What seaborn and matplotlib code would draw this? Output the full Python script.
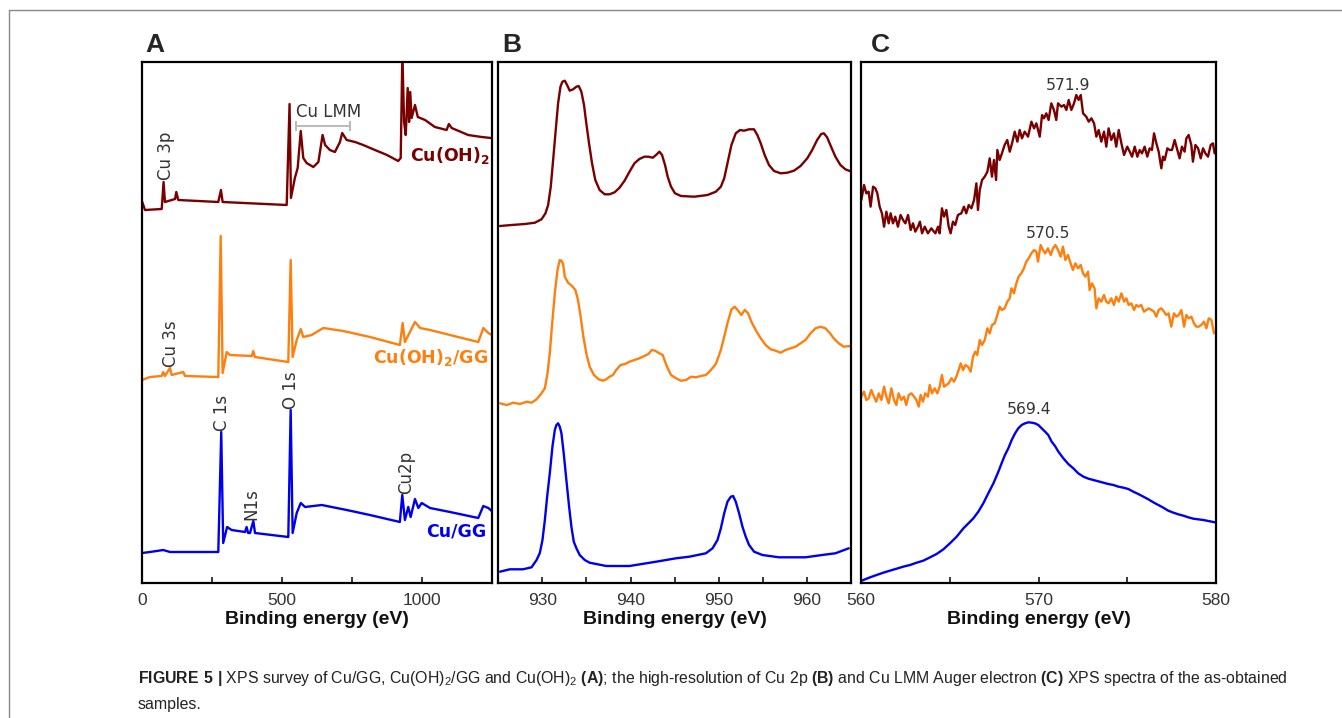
import matplotlib
matplotlib.use("Agg")
import matplotlib.pyplot as plt
import seaborn as sns
import pandas as pd
from matplotlib import font_manager as fm
from matplotlib.lines import Line2D

# ---------------- data ----------------
# Panel A: survey spectra (binding energy eV, intensity a.u. with offsets)
a_cuoh2_x = [1, 10.7, 70.4, 77, 82, 118, 122.5, 129.6, 272.5, 282, 288, 516.8, 527, 532, 546, 556, 567, 576,
             588, 612, 630, 645, 654, 671, 689, 707, 715, 731, 761, 790, 832, 875, 915, 924, 930, 936, 942, 949, 954,
             958, 963, 975, 985, 1011, 1046, 1088, 1096, 1106, 1165, 1213, 1246]
a_cuoh2_y = [381, 373, 374, 401, 381, 384, 391, 383, 381, 393, 381, 378, 479, 385, 405, 415, 452, 425,
             420, 416, 421, 448, 438, 433, 431, 441, 450, 443, 441, 438, 433, 428, 422, 425, 530, 461, 448, 495, 461,
             491, 465, 478, 466, 463, 456, 453, 459, 455, 448, 446, 445]

a_cuoh2gg_x = [0, 28.6, 70.4, 76, 82, 100, 106, 147.5, 153.6, 272.5, 281, 288, 302.5, 314, 392, 397.5, 403,
               522.5, 531, 538, 552.5, 567, 576, 606, 647.5, 719, 814, 921, 931, 939, 957, 975, 993, 1028.6,
               1100, 1201, 1219, 1237, 1249]
a_cuoh2gg_y = [203, 206, 207, 211, 207, 215, 208, 211, 207, 206, 347, 210, 231, 228, 227, 232, 226,
               221, 323, 226, 243, 254, 246, 248, 255, 252, 246, 238, 260, 241, 251, 261, 255, 253,
               248, 241, 255, 250, 248]

a_cugg_x = [0, 28.6, 76, 100, 272.5, 283, 290, 304, 320, 368, 373.6, 379, 385.7, 397.6, 403.6, 522.5, 531,
            538, 552.5, 567, 582.5, 642, 731, 814, 921, 929.6, 939, 951, 959.5, 975, 987, 999, 1028.6,
            1100, 1201, 1219, 1237, 1249]
a_cugg_y = [30, 31, 33, 31, 31, 151, 40, 56, 53, 51, 56, 50, 50, 62, 50, 46, 173,
            50, 70, 80, 76, 78, 73, 68, 61, 88, 63, 76, 66, 84, 75, 80, 75,
            71, 65, 77, 75, 72]

# Panel B: Cu 2p high resolution
b_cuoh2_x = [925.19, 926.51, 928.02, 929.15, 929.90, 930.35, 930.65, 930.95, 931.22, 931.48,
             931.78, 932.05, 932.27, 932.54, 932.80, 933.10, 933.48, 933.86, 934.12, 934.42,
             934.72, 934.98, 935.29, 935.63, 936.00, 936.49, 937.06, 937.62, 938.19, 938.75,
             939.32, 939.88, 940.44, 941.00, 941.57, 942.03, 942.52, 942.89, 943.27, 943.57,
             943.91, 944.21, 944.59, 945.04, 945.72, 947.23, 948.73, 949.67, 950.24, 950.62,
             950.99, 951.44, 951.93, 952.42, 952.87, 953.44, 954.00, 954.38, 954.76, 955.21,
             955.70, 956.27, 957.02, 957.78, 958.53, 959.28, 960.04, 960.60, 961.16, 961.62,
             961.92, 962.29, 962.74, 963.23, 963.80, 964.36, 964.85]
b_cuoh2_y = [357, 358, 359, 360.3, 363.7, 369.7, 378, 396.3, 423, 449.7,
             479.7, 496.3, 501.3, 502.3, 498, 492.3, 493.7, 496.3, 497, 491.3,
             478, 459.7, 439.7, 419.7, 403, 393, 388.7, 388.7, 390.7, 395.3,
             402.3, 411.3, 419.7, 424, 426.3, 426.3, 425.3, 428, 431.3, 428,
             418, 406.3, 396.3, 389.7, 387, 386.3, 388, 391.3, 396.3, 404.7,
             419.7, 438, 449.7, 453, 452.3, 453.7, 453.7, 448, 439.7, 428,
             418, 412, 409.7, 410.3, 412.3, 417, 424.7, 433, 443, 449,
             449.7, 445.7, 436.3, 426.3, 418, 413.7, 412]

b_cuoh2gg_x = [925.19, 925.95, 926.70, 927.45, 928.21, 928.77, 929.34, 929.90, 930.28, 930.58,
               930.84, 931.11, 931.41, 931.71, 931.97, 932.16, 932.35, 932.54, 932.91, 933.36,
               933.74, 934.04, 934.34, 934.65, 934.98, 935.36, 935.85, 936.38, 936.87, 937.24,
               937.62, 938.00, 938.37, 938.86, 939.39, 939.88, 940.44, 941.00, 941.57, 942.03,
               942.40, 942.78, 943.27, 943.65, 943.91, 944.21, 944.59, 945.15, 945.72, 946.29,
               946.85, 947.41, 947.98, 948.54, 949.11, 949.67, 950.24, 950.62, 950.99, 951.44,
               951.82, 952.20, 952.57, 952.95, 953.33, 953.70, 954.19, 954.76, 955.32, 955.89,
               956.45, 957.02, 957.58, 958.15, 958.71, 959.28, 959.84, 960.41, 960.97, 961.54,
               962.10, 962.59, 963.04, 963.61, 964.17, 964.85]
b_cuoh2gg_y = [179.7, 178, 180.3, 179, 181.3, 180.3, 183.7, 189.7, 194.7, 209.7,
               229.7, 259.7, 289.7, 313, 323, 322.3, 319, 306.3, 300.3, 297,
               293, 283, 266.3, 246.3, 229.7, 216.3, 208, 203.7, 202.3, 203.7,
               206.3, 208, 213, 218, 219, 221.3, 223, 224.7, 227, 229,
               233, 232.3, 229.7, 228, 221.3, 214.7, 208, 204.7, 202.3, 203,
               206.3, 205.7, 207, 208, 213, 219, 233, 246.3, 259.7, 273.7,
               276.3, 272.3, 268, 273, 269.7, 261.3, 253, 244.7, 238, 233.7,
               232.3, 230.3, 233, 234.7, 236.3, 239.7, 243, 249.7, 254.7, 256.3,
               254.7, 250, 244.7, 239.7, 236.3, 237]

b_cugg_x = [925.19, 926.30, 927.80, 928.77, 929.34, 929.71, 930.01, 930.28, 930.54, 930.84,
            931.14, 931.41, 931.59, 931.78, 931.97, 932.16, 932.42, 932.72, 933.03, 933.29,
            933.56, 933.86, 934.23, 934.80, 935.36, 937.24, 939.88, 942.90, 945.15, 946.66,
            948.54, 949.30, 949.86, 950.24, 950.62, 950.99, 951.37, 951.63, 951.93, 952.31,
            952.69, 953.06, 953.44, 954.01, 954.95, 956.83, 959.84, 961.72, 963.23, 964.74]
b_cugg_y = [11.3, 13.7, 13.7, 15.7, 23, 30, 43, 63, 86.3, 109.7,
            136.3, 153, 158, 159.7, 156.3, 149.7, 129.7, 103, 76.3, 56.3,
            41.3, 34.7, 28, 23, 20.3, 17, 17, 21.3, 24.7, 26.3,
            29.7, 34.7, 43, 54.7, 69.7, 81.3, 86.3, 87, 81.3, 69.7,
            56.3, 46.3, 38, 31.3, 28, 25.7, 25.7, 28, 29.7, 34.7]

# Panel C: Cu LMM Auger
c_cuoh2_x = [560.02, 560.17, 560.30, 560.43, 560.54, 560.68, 560.81, 560.92, 561.05, 561.18, 561.30, 561.43,
             561.56, 561.67, 561.80, 561.93, 562.08, 562.23, 562.37, 562.50, 562.65, 562.80, 562.93, 563.06,
             563.21, 563.32, 563.44, 563.59, 563.77, 563.96, 564.19, 564.34, 564.43, 564.56, 564.68, 564.81,
             564.94, 565.05, 565.18, 565.31, 565.46, 565.65, 565.80, 565.93, 566.07, 566.22, 566.37, 566.50,
             566.59, 566.69, 566.82, 566.97, 567.12, 567.25, 567.38, 567.49, 567.61, 567.68, 567.81, 567.94,
             568.09, 568.24, 568.38, 568.51, 568.66, 568.81, 568.94, 569.07, 569.22, 569.41, 569.60, 569.75,
             569.88, 570.07, 570.20, 570.31, 570.44, 570.57, 570.72, 570.87, 571.00, 571.10, 571.29, 571.44,
             571.57, 571.70, 571.85, 572.00, 572.13, 572.26, 572.38, 572.51, 572.69, 572.83, 572.98, 573.13,
             573.26, 573.39, 573.54, 573.69, 573.82, 573.95, 574.10, 574.25, 574.38, 574.52, 574.67, 574.82,
             575.00, 575.14, 575.27, 575.42, 575.57, 575.70, 575.83, 575.98, 576.13, 576.26, 576.39, 576.51,
             576.64, 576.77, 576.92, 577.01, 577.11, 577.26, 577.39, 577.52, 577.67, 577.82, 577.95, 578.08,
             578.23, 578.33, 578.46, 578.61, 578.70, 578.84, 578.99, 579.14, 579.27, 579.40, 579.55, 579.70,
             579.83, 579.92]
c_cuoh2_y = [1149, 1194, 1169, 1174, 1129, 1189, 1184, 1169, 1129, 1109, 1069, 1114,
             1079, 1109, 1079, 1099, 1069, 1104, 1089, 1079, 1104, 1059, 1079, 1054,
             1069, 1084, 1049, 1069, 1049, 1064, 1049, 1069, 1049, 1124, 1099, 1119,
             1069, 1049, 1084, 1074, 1104, 1109, 1129, 1109, 1134, 1124, 1149, 1199,
             1119, 1179, 1209, 1219, 1234, 1274, 1219, 1269, 1209, 1299, 1269, 1289,
             1314, 1329, 1294, 1319, 1354, 1324, 1359, 1334, 1354, 1339, 1384, 1364,
             1379, 1339, 1404, 1394, 1409, 1389, 1439, 1419, 1389, 1439, 1429, 1434,
             1419, 1449, 1419, 1439, 1464, 1449, 1464, 1409, 1399, 1384, 1394, 1379,
             1339, 1359, 1324, 1354, 1309, 1364, 1329, 1349, 1309, 1359, 1319, 1284,
             1309, 1294, 1279, 1309, 1279, 1299, 1289, 1309, 1279, 1304, 1299, 1349,
             1319, 1294, 1244, 1279, 1269, 1304, 1299, 1299, 1329, 1299, 1274, 1309,
             1294, 1334, 1344, 1314, 1264, 1314, 1304, 1274, 1304, 1289, 1279, 1314,
             1319, 1289]

c_cuoh2gg_x = [560.02, 560.17, 560.30, 560.43, 560.58, 560.73, 560.86, 561.00, 561.15, 561.30, 561.43, 561.56,
               561.71, 561.86, 561.99, 562.12, 562.27, 562.42, 562.55, 562.69, 562.84, 562.99, 563.12, 563.25,
               563.36, 563.49, 563.62, 563.77, 563.87, 564.00, 564.15, 564.30, 564.43, 564.56, 564.68, 564.81,
               564.94, 565.09, 565.24, 565.37, 565.50, 565.62, 565.75, 565.88, 566.03, 566.18, 566.31, 566.44,
               566.55, 566.69, 566.82, 566.97, 567.12, 567.25, 567.38, 567.53, 567.68, 567.81, 567.94, 568.09,
               568.24, 568.38, 568.47, 568.62, 568.75, 568.88, 569.03, 569.18, 569.31, 569.45, 569.60, 569.75,
               569.88, 569.97, 570.12, 570.25, 570.38, 570.53, 570.69, 570.82, 570.95, 571.10, 571.25, 571.38,
               571.51, 571.66, 571.81, 571.94, 572.08, 572.23, 572.38, 572.51, 572.64, 572.79, 572.88, 573.01,
               573.16, 573.26, 573.39, 573.54, 573.69, 573.82, 573.95, 574.10, 574.25, 574.38, 574.52, 574.67,
               574.82, 574.95, 575.08, 575.23, 575.38, 575.51, 575.64, 575.79, 575.94, 576.08, 576.21, 576.36,
               576.51, 576.64, 576.77, 576.92, 577.07, 577.20, 577.33, 577.48, 577.63, 577.77, 577.90, 578.05,
               578.20, 578.33, 578.46, 578.61, 578.76, 578.89, 579.02, 579.17, 579.32, 579.46, 579.59, 579.74,
               579.89]
c_cuoh2gg_y = [559, 574, 549, 554, 579, 559, 544, 569, 549, 589, 559, 539,
               584, 549, 534, 569, 549, 559, 534, 564, 569, 559, 549, 529,
               564, 544, 569, 559, 594, 569, 584, 569, 589, 624, 589, 594,
               599, 614, 604, 619, 639, 659, 639, 654, 649, 634, 679, 694,
               684, 729, 714, 729, 764, 749, 774, 779, 804, 829, 819, 824,
               844, 854, 884, 869, 899, 919, 929, 944, 964, 974, 989, 999,
               994, 964, 1014, 999, 989, 1004, 984, 1004, 1014, 999, 979, 1009,
               969, 984, 959, 939, 959, 944, 954, 929, 919, 934, 879, 899,
               884, 824, 854, 844, 864, 844, 839, 854, 834, 859, 844, 869,
               844, 854, 834, 839, 819, 834, 829, 834, 814, 819, 824, 819,
               814, 799, 819, 824, 814, 804, 809, 769, 809, 799, 804, 819,
               769, 804, 794, 799, 779, 769, 769, 774, 784, 764, 794, 789,
               749]

c_cugg_x = [560.04, 560.51, 560.88, 561.26, 561.63, 562.01, 562.38, 562.76, 563.14, 563.51,
            563.89, 564.26, 564.64, 565.01, 565.39, 565.77, 566.05, 566.33, 566.61, 566.89,
            567.17, 567.46, 567.74, 567.92, 568.11, 568.30, 568.49, 568.68, 568.86, 569.05,
            569.24, 569.43, 569.62, 569.80, 569.99, 570.18, 570.37, 570.55, 570.74, 570.93,
            571.12, 571.40, 571.68, 571.96, 572.24, 572.53, 572.81, 573.09, 573.37, 573.65,
            573.93, 574.22, 574.50, 574.78, 575.06, 575.34, 575.62, 575.91, 576.19, 576.47,
            576.75, 577.03, 577.31, 577.60, 577.88, 578.16, 578.44, 578.72, 579.00, 579.29,
            579.57, 579.94]
c_cugg_y = [7, 17, 24, 31, 37, 43, 49, 54, 61, 67,
            77, 87, 101, 119, 139, 164, 179, 194, 214, 239,
            269, 299, 334, 359, 384, 404, 429, 449, 464, 474,
            479, 482, 481, 479, 474, 464, 454, 444, 424, 411,
            394, 374, 357, 344, 329, 319, 313, 309, 305, 301,
            297, 294, 289, 286, 282, 274, 267, 259, 251, 242,
            234, 226, 217, 211, 206, 202, 197, 193, 191, 189,
            186, 182]

# labels
a_ticks = [0, 500, 1000]
b_ticks = [930, 940, 950, 960]
c_ticks = [560, 570, 580]
xlabel = "Binding energy (eV)"
c_peak_labels = ["571.9", "570.5", "569.4"]

# ---------------- style ----------------
sns.set_style("ticks")
names = {f.name for f in fm.fontManager.ttflist}
narrow = "Liberation Sans Narrow" if "Liberation Sans Narrow" in names else (
    "DejaVu Sans Condensed" if "DejaVu Sans Condensed" in names else "Liberation Sans")
annot_font = "Noto Sans CJK SC" if "Noto Sans CJK SC" in names else "DejaVu Sans"
plt.rcParams["font.family"] = [narrow, "DejaVu Sans"]
plt.rcParams["mathtext.fontset"] = "custom"
plt.rcParams["mathtext.rm"] = narrow
plt.rcParams["mathtext.bf"] = narrow + ":bold"

RED = "#7A0000"
ORANGE = "#FF7F0E"
BLUE = "#0000F0"
GREY = "#333333"

fig = plt.figure(figsize=(13.42, 7.18), dpi=100)
H = 521 / 718
B0 = 135 / 718
axA = fig.add_axes([142 / 1342, B0, 349.7 / 1342, H])
axB = fig.add_axes([498.3 / 1342, B0, 352.7 / 1342, H])
axC = fig.add_axes([861 / 1342, B0, 355 / 1342, H])


def draw(ax, x, y, color):
    df = pd.DataFrame({"x": x, "y": y})
    sns.lineplot(data=df, x="x", y="y", ax=ax, color=color, lw=1.7, estimator=None, sort=False)


draw(axA, a_cuoh2_x, a_cuoh2_y, RED)
draw(axA, a_cuoh2gg_x, a_cuoh2gg_y, ORANGE)
draw(axA, a_cugg_x, a_cugg_y, BLUE)
draw(axB, b_cuoh2_x, b_cuoh2_y, RED)
draw(axB, b_cuoh2gg_x, b_cuoh2gg_y, ORANGE)
draw(axB, b_cugg_x, b_cugg_y, BLUE)
draw(axC, c_cuoh2_x, c_cuoh2_y, RED)
draw(axC, c_cuoh2gg_x, c_cuoh2gg_y, ORANGE)
draw(axC, c_cugg_x, c_cugg_y, BLUE)

axA.set_xlim(0, 1249)
axA.set_ylim(0, 521)
axB.set_xlim(925, 965)
axB.set_ylim(0, 521)
axC.set_xlim(560, 580)
axC.set_ylim(0, 1563)

for ax, ticks, minor in [(axA, a_ticks, [250, 750]), (axB, b_ticks, [935, 945, 955]), (axC, c_ticks, [565, 575])]:
    ax.set_xticks(ticks)
    ax.set_xticklabels([str(t) for t in ticks])
    ax.set_xticks(minor, minor=True)
    ax.set_yticks([])
    ax.tick_params(axis="x", which="both", direction="in", length=4.5, width=1.3, pad=7,
                   labelsize=12.5, labelcolor="#333333", top=False)
    for s in ax.spines.values():
        s.set_linewidth(1.6)
        s.set_color("black")
    ax.set_xlabel(xlabel, fontsize=14, fontweight="bold", labelpad=2, color="#111111")
    ax.set_ylabel("")

# annotations panel A
kw = dict(fontsize=12, color=GREY, family=[annot_font, "DejaVu Sans"])
axA.text(84, 427, "Cu 3p", rotation=90, ha="center", va="center", **kw)
axA.text(102, 239, "Cu 3s", rotation=90, ha="center", va="center", **kw)
axA.text(285, 170, "C 1s", rotation=90, ha="center", va="center", **kw)
axA.text(533, 193, "O 1s", rotation=90, ha="center", va="center", **kw)
axA.text(392, 79, "N1s", rotation=90, ha="center", va="center", **kw)
axA.text(945, 111, "Cu2p", rotation=90, ha="center", va="center", **kw)
axA.text(549, 471, "Cu LMM", ha="left", va="center", **kw)
axA.plot([549, 743], [457, 457], color="#BBBBBB", lw=1.5)
axA.vlines([549, 743], 452, 462, color="#BBBBBB", lw=1.5)

kw2 = dict(fontsize=12.5, fontweight="bold", family=[annot_font, "DejaVu Sans"], ha="center", va="center")
axA.text(1100, 427, r"Cu(OH)$_\mathregular{2}$", color=RED, **kw2)
axA.text(1031, 225, r"Cu(OH)$_\mathregular{2}$/GG", color=ORANGE, **kw2)
axA.text(1121, 52, "Cu/GG", color=BLUE, **kw2)

# annotations panel C
kw3 = dict(fontsize=11.2, color=GREY, family=[annot_font, "DejaVu Sans"], ha="center", va="center")
axC.text(571.66, 1494, c_peak_labels[0], **kw3)
axC.text(570.54, 1049, c_peak_labels[1], **kw3)
axC.text(569.45, 519, c_peak_labels[2], **kw3)

# panel letters
for lx, lab in [(145, "A"), (502, "B"), (871, "C")]:
    fig.text(lx / 1342, (718 - 52) / 718, lab, fontsize=19, fontweight="bold",
             family=["Liberation Sans", "DejaVu Sans"], ha="left", va="baseline")

# outer frame (top and left edges)
fig.add_artist(Line2D([9 / 1342, 1.0], [1 - 10 / 718, 1 - 10 / 718], color="#888888", lw=1.0))
fig.add_artist(Line2D([9 / 1342, 9 / 1342], [0, 1 - 10 / 718], color="#888888", lw=1.0))

# caption
cap1 = (r"$\mathbf{FIGURE\ 5\ |}$ XPS survey of Cu/GG, Cu(OH)$_\mathregular{2}$/GG and Cu(OH)$_\mathregular{2}$ "
        r"$\mathbf{(A)}$; the high-resolution of Cu 2p $\mathbf{(B)}$ and Cu LMM Auger electron "
        r"$\mathbf{(C)}$ XPS spectra of the as-obtained")
fig.text(138 / 1342, (718 - 678) / 718, cap1, fontsize=11.4, color="#222222", ha="left", va="center")
fig.text(138 / 1342, (718 - 705) / 718, "samples.", fontsize=11.4, color="#222222", ha="left", va="center")

fig.savefig("out.png", dpi=100)
